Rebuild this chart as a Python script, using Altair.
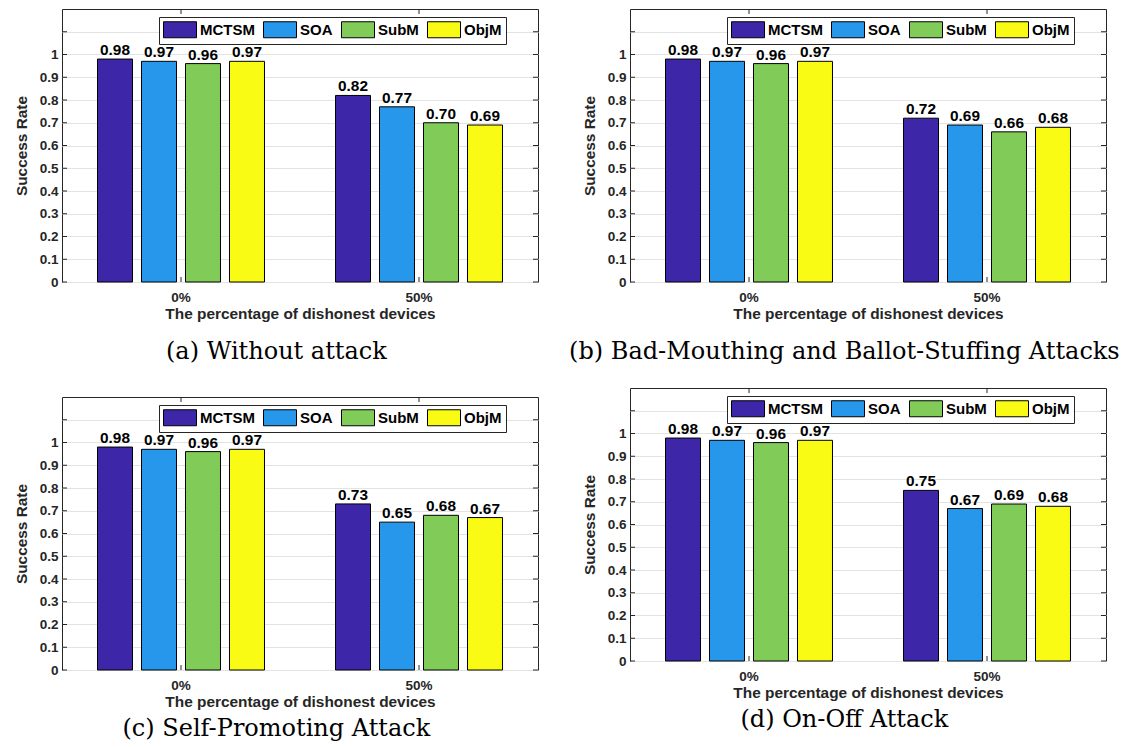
import altair as alt
import pandas as pd

methods = ["MCTSM", "SOA", "SubM", "ObjM"]
colors = ["#3E26A8", "#2797EB", "#81CC59", "#F9FB15"]
categories = ["0%", "50%"]

vals_0 = [0.98, 0.97, 0.96, 0.97]
vals_a_50 = [0.82, 0.77, 0.70, 0.69]
vals_b_50 = [0.72, 0.69, 0.66, 0.68]
vals_c_50 = [0.73, 0.65, 0.68, 0.67]
vals_d_50 = [0.75, 0.67, 0.69, 0.68]

captions = [
    "(a) Without attack",
    "(b) Bad-Mouthing and Ballot-Stuffing Attacks",
    "(c) Self-Promoting Attack",
    "(d) On-Off Attack",
]
y_ticks = [0, 0.1, 0.2, 0.3, 0.4, 0.5, 0.6, 0.7, 0.8, 0.9, 1.0, 1.1]

W, H = 476, 273
FRAME = "#262626"
SANS = "Liberation Sans"


def panel(v50, caption, cap_offset):
    df = pd.DataFrame({
        "cat": [c for c in categories for _ in methods],
        "method": methods * 2,
        "value": vals_0 + v50,
    })
    xscale = alt.Scale(type="band", domain=categories, paddingInner=0, paddingOuter=0)
    yscale = alt.Scale(domain=[0, 1.2], nice=False, zero=True)
    x = alt.X("cat:N", sort=categories, scale=xscale,
              axis=alt.Axis(title="The percentage of dishonest devices", labelAngle=0,
                            ticks=False, domain=False, grid=False,
                            labelPadding=8, titlePadding=3))
    xo = alt.XOffset("method:N", sort=methods,
                     scale=alt.Scale(domain=methods, paddingInner=0.2045, paddingOuter=0.807))
    y = alt.Y("value:Q", scale=yscale,
              axis=alt.Axis(values=y_ticks, title="Success Rate",
                            labelExpr="datum.value > 1.05 ? '' : format(datum.value, '~g')",
                            ticks=False, domain=False, grid=True, labelPadding=4,
                            titlePadding=10))
    color = alt.Color("method:N", sort=methods,
                      scale=alt.Scale(domain=methods, range=colors),
                      legend=alt.Legend(orient="none", legendX=97, legendY=8,
                                        direction="horizontal", columns=4, title=None,
                                        symbolType="M-1,-1H3.125V1H-1Z", symbolSize=256,
                                        symbolStrokeColor="black", symbolStrokeWidth=1,
                                        symbolOpacity=1,
                                        labelOffset=20, columnPadding=6, padding=4,
                                        strokeColor=FRAME, fillColor="white",
                                        labelFont=SANS, labelFontWeight="bold",
                                        labelFontSize=15, labelColor="black",
                                        labelLimit=300))
    base = alt.Chart(df)
    bars = base.mark_bar(stroke="black", strokeWidth=1).encode(
        x=x, xOffset=xo, y=y, color=color)
    text = base.mark_text(baseline="bottom", dy=-1, font=SANS, fontWeight="bold",
                          fontSize=15.4, color="black").encode(
        x=x, xOffset=xo, y=y, text=alt.Text("value:Q", format=".2f"))

    ydf = pd.DataFrame({"value": y_ticks})
    xdf = pd.DataFrame({"cat": categories})
    tl = alt.Chart(ydf).mark_rule(color=FRAME, strokeWidth=1).encode(
        y=y, x=alt.value(0), x2=alt.value(5))
    tr = alt.Chart(ydf).mark_rule(color=FRAME, strokeWidth=1).encode(
        y=y, x=alt.value(W - 5), x2=alt.value(W))
    tb = alt.Chart(xdf).mark_rule(color=FRAME, strokeWidth=1).encode(
        x=x, y=alt.value(H - 5), y2=alt.value(H))
    tt = alt.Chart(xdf).mark_rule(color=FRAME, strokeWidth=1).encode(
        x=x, y=alt.value(0), y2=alt.value(5))

    return alt.layer(bars, text, tl, tr, tb, tt).properties(
        width=W, height=H,
        title=alt.TitleParams(text=caption, orient="bottom", anchor="middle",
                              frame="bounds", font="DejaVu Serif", fontSize=24,
                              fontWeight="normal", color="black", offset=cap_offset))


pa = panel(vals_a_50, captions[0], 18)
pb = panel(vals_b_50, captions[1], 18)
pc = panel(vals_c_50, captions[2], 7)
pd_ = panel(vals_d_50, captions[3], 7)

col1 = alt.vconcat(pa, pc, spacing=31).resolve_scale(color="independent").resolve_legend(color="independent")
col2 = alt.vconcat(pb, pd_, spacing=22).resolve_scale(color="independent").resolve_legend(color="independent")

chart = alt.hconcat(col1, col2, spacing=29,
                    padding={"left": 5, "top": 0, "right": 0, "bottom": 0}
                    ).resolve_scale(color="independent").resolve_legend(color="independent")

chart = chart.configure(background="white").configure_view(
    stroke=FRAME, strokeWidth=1).configure_axis(
    labelFont=SANS, labelFontWeight="bold", labelFontSize=13.5, labelColor=FRAME,
    titleFont=SANS, titleFontWeight="bold", titleFontSize=15.4, titleColor=FRAME,
    gridColor="#e3e3e3", gridWidth=1)

chart.save("out.html", embed_options={"renderer": "svg", "actions": False})
